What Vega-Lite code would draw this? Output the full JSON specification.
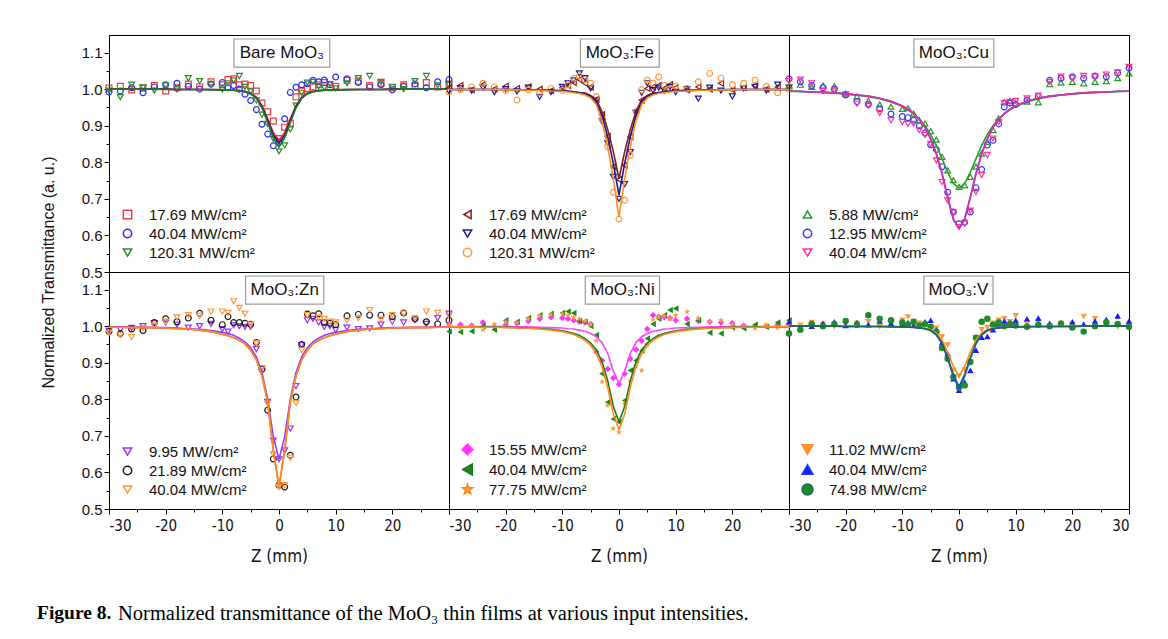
{
"$schema":"https://vega.github.io/schema/vega-lite/v6.json",
"background":"white",
"padding":{"left":36,"top":34,"right":10,"bottom":10},
"config":{
 "view":{"stroke":"#000","strokeWidth":1},
 "axis":{"grid":false,"domainColor":"#000","tickColor":"#000","domainWidth":1,"tickWidth":1,"labelFont":"Liberation Sans","labelFontSize":15,"labelColor":"#111","titleFont":"Liberation Sans","titleFontSize":16,"titleFontWeight":"normal","titleColor":"#111","labelPadding":2},
 "axisX":{"labelFont":"Liberation Sans Narrow, DejaVu Sans Condensed, Liberation Sans","labelFontSize":15,"labelPadding":4,"titleFont":"Liberation Sans Narrow, DejaVu Sans Condensed, Liberation Sans","titleFontSize":17,"titlePadding":15},
 "legend":{"orient":"bottom-left","offset":11,"labelFont":"Liberation Sans","labelFontSize":15,"labelColor":"#111","symbolSize":70,"symbolStrokeWidth":1.5,"labelOffset":14,"rowPadding":3,"padding":0,"labelLimit":300}
},
"datasets":{
"bare":[
{"s":"a","z":-30,"T":1.003,"f":1},{"s":"b","z":-30,"T":0.992,"f":1},{"s":"c","z":-30,"T":0.996,"f":1},
{"s":"a","z":-28,"T":1.008,"f":1},{"s":"b","z":-28,"T":0.995,"f":1},{"s":"c","z":-28,"T":0.978,"f":1},
{"s":"a","z":-26,"T":0.998,"f":1},{"s":"b","z":-26,"T":1.004,"f":1},{"s":"c","z":-26,"T":1.012,"f":1},
{"s":"a","z":-24,"T":1.003,"f":1},{"s":"b","z":-24,"T":0.99,"f":1},{"s":"c","z":-24,"T":1.005,"f":1},
{"s":"a","z":-22,"T":1.01,"f":1},{"s":"b","z":-22,"T":1.006,"f":1},{"s":"c","z":-22,"T":0.996,"f":1},
{"s":"a","z":-20,"T":0.995,"f":1},{"s":"b","z":-20,"T":1.012,"f":1},{"s":"c","z":-20,"T":1.01,"f":0.999},
{"s":"a","z":-18,"T":1.004,"f":0.999},{"s":"b","z":-18,"T":1.016,"f":0.999},{"s":"c","z":-18,"T":0.999,"f":0.999},
{"s":"a","z":-16,"T":1.014,"f":0.999},{"s":"b","z":-16,"T":1.008,"f":0.999},{"s":"c","z":-16,"T":1.03,"f":0.999},
{"s":"a","z":-14,"T":1.006,"f":0.999},{"s":"b","z":-14,"T":1,"f":0.999},{"s":"c","z":-14,"T":1.022,"f":0.999},
{"s":"a","z":-12,"T":1.02,"f":0.999},{"s":"b","z":-12,"T":1.014,"f":0.999},{"s":"c","z":-12,"T":1.012,"f":0.998},
{"s":"a","z":-10,"T":1.012,"f":0.998},{"s":"b","z":-10,"T":1.018,"f":0.998},{"s":"c","z":-10,"T":0.999,"f":0.998},
{"s":"a","z":-9,"T":1.026,"f":0.998},{"s":"b","z":-9,"T":1.004,"f":0.997},{"s":"c","z":-9,"T":1.016,"f":0.997},
{"s":"a","z":-8,"T":1.028,"f":0.997},{"s":"b","z":-8,"T":1.01,"f":0.997},{"s":"c","z":-8,"T":1.024,"f":0.997},
{"s":"a","z":-7,"T":1.012,"f":0.996},{"s":"b","z":-7,"T":1,"f":0.996},{"s":"c","z":-7,"T":1.036,"f":0.995},
{"s":"a","z":-6,"T":1.014,"f":0.994},{"s":"b","z":-6,"T":0.986,"f":0.993},{"s":"c","z":-6,"T":1.006,"f":0.993},
{"s":"a","z":-5,"T":1.01,"f":0.989},{"s":"b","z":-5,"T":0.969,"f":0.988},{"s":"c","z":-5,"T":0.994,"f":0.987},
{"s":"a","z":-4,"T":0.995,"f":0.978},{"s":"b","z":-4,"T":0.944,"f":0.976},{"s":"c","z":-4,"T":0.969,"f":0.975},
{"s":"a","z":-3,"T":0.962,"f":0.955},{"s":"b","z":-3,"T":0.904,"f":0.953},{"s":"c","z":-3,"T":0.93,"f":0.949},
{"s":"a","z":-2,"T":0.938,"f":0.919},{"s":"b","z":-2,"T":0.877,"f":0.914},{"s":"c","z":-2,"T":0.905,"f":0.908},
{"s":"a","z":-1,"T":0.913,"f":0.881},{"s":"b","z":-1,"T":0.845,"f":0.874},{"s":"c","z":-1,"T":0.864,"f":0.866},
{"s":"a","z":0,"T":0.865,"f":0.86},{"s":"b","z":0,"T":0.855,"f":0.852},{"s":"c","z":0,"T":0.83,"f":0.842},
{"s":"a","z":1,"T":0.896,"f":0.881},{"s":"b","z":1,"T":0.919,"f":0.874},{"s":"c","z":1,"T":0.846,"f":0.866},
{"s":"a","z":2,"T":0.907,"f":0.919},{"s":"b","z":2,"T":0.991,"f":0.914},{"s":"c","z":2,"T":0.89,"f":0.908},
{"s":"a","z":3,"T":0.979,"f":0.955},{"s":"b","z":3,"T":1.005,"f":0.953},{"s":"c","z":3,"T":0.955,"f":0.949},
{"s":"a","z":4,"T":0.995,"f":0.978},{"s":"b","z":4,"T":1.012,"f":0.976},{"s":"c","z":4,"T":0.99,"f":0.975},
{"s":"a","z":5,"T":1.002,"f":0.989},{"s":"b","z":5,"T":1.015,"f":0.988},{"s":"c","z":5,"T":1.018,"f":0.987},
{"s":"a","z":6,"T":1.006,"f":0.994},{"s":"b","z":6,"T":1.024,"f":0.993},{"s":"c","z":6,"T":1.02,"f":0.993},
{"s":"a","z":7,"T":1.012,"f":0.996},{"s":"b","z":7,"T":1.02,"f":0.996},{"s":"c","z":7,"T":1.008,"f":0.995},
{"s":"a","z":8,"T":1.018,"f":0.997},{"s":"b","z":8,"T":1.025,"f":0.997},{"s":"c","z":8,"T":1.004,"f":0.997},
{"s":"a","z":9,"T":1.004,"f":0.998},{"s":"b","z":9,"T":1.012,"f":0.997},{"s":"c","z":9,"T":1.014,"f":0.997},
{"s":"a","z":10,"T":1.008,"f":0.998},{"s":"b","z":10,"T":1.033,"f":0.998},{"s":"c","z":10,"T":1.002,"f":0.998},
{"s":"a","z":12,"T":1.024,"f":0.999},{"s":"b","z":12,"T":1.028,"f":0.999},{"s":"c","z":12,"T":1.016,"f":0.998},
{"s":"a","z":14,"T":1.022,"f":0.999},{"s":"b","z":14,"T":1.018,"f":0.999},{"s":"c","z":14,"T":1.03,"f":0.999},
{"s":"a","z":16,"T":1.01,"f":0.999},{"s":"b","z":16,"T":1.006,"f":0.999},{"s":"c","z":16,"T":1.036,"f":0.999},
{"s":"a","z":18,"T":1.016,"f":0.999},{"s":"b","z":18,"T":1.012,"f":0.999},{"s":"c","z":18,"T":1.02,"f":0.999},
{"s":"a","z":20,"T":1.004,"f":1},{"s":"b","z":20,"T":0.998,"f":1},{"s":"c","z":20,"T":1.006,"f":0.999},
{"s":"a","z":22,"T":1.012,"f":1},{"s":"b","z":22,"T":1.008,"f":1},{"s":"c","z":22,"T":1,"f":1},
{"s":"a","z":24,"T":1.008,"f":1},{"s":"b","z":24,"T":1.014,"f":1},{"s":"c","z":24,"T":1.022,"f":1},
{"s":"a","z":26,"T":1.018,"f":1},{"s":"b","z":26,"T":1.004,"f":1},{"s":"c","z":26,"T":1.036,"f":1},
{"s":"a","z":28,"T":1.006,"f":1},{"s":"b","z":28,"T":1.02,"f":1},{"s":"c","z":28,"T":1.01,"f":1},
{"s":"a","z":30,"T":1.014,"f":1},{"s":"b","z":30,"T":1.026,"f":1},{"s":"c","z":30,"T":1.012,"f":1}
],
"fe":[
{"s":"a","z":-30,"T":1.004,"f":0.999},{"s":"b","z":-30,"T":0.994,"f":0.999},{"s":"c","z":-30,"T":0.992,"f":0.999},
{"s":"a","z":-28,"T":1.01,"f":0.999},{"s":"b","z":-28,"T":1.002,"f":0.999},{"s":"c","z":-28,"T":0.998,"f":0.999},
{"s":"a","z":-26,"T":0.998,"f":0.999},{"s":"b","z":-26,"T":0.996,"f":0.999},{"s":"c","z":-26,"T":1.006,"f":0.999},
{"s":"a","z":-24,"T":1.012,"f":0.999},{"s":"b","z":-24,"T":1.004,"f":0.999},{"s":"c","z":-24,"T":1.016,"f":0.999},
{"s":"a","z":-22,"T":1,"f":0.999},{"s":"b","z":-22,"T":0.992,"f":0.999},{"s":"c","z":-22,"T":1.006,"f":0.999},
{"s":"a","z":-20,"T":1.008,"f":0.999},{"s":"b","z":-20,"T":1,"f":0.999},{"s":"c","z":-20,"T":0.996,"f":0.998},
{"s":"a","z":-18,"T":1.002,"f":0.998},{"s":"b","z":-18,"T":0.994,"f":0.998},{"s":"c","z":-18,"T":0.97,"f":0.998},
{"s":"a","z":-16,"T":1.006,"f":0.998},{"s":"b","z":-16,"T":1.004,"f":0.998},{"s":"c","z":-16,"T":0.998,"f":0.997},
{"s":"a","z":-14,"T":1,"f":0.998},{"s":"b","z":-14,"T":0.979,"f":0.997},{"s":"c","z":-14,"T":0.99,"f":0.997},
{"s":"a","z":-12,"T":0.996,"f":0.997},{"s":"b","z":-12,"T":0.992,"f":0.996},{"s":"c","z":-12,"T":1.002,"f":0.995},
{"s":"a","z":-10,"T":1.004,"f":0.996},{"s":"b","z":-10,"T":1.006,"f":0.995},{"s":"c","z":-10,"T":0.996,"f":0.994},
{"s":"a","z":-9,"T":1.01,"f":0.995},{"s":"b","z":-9,"T":1.016,"f":0.994},{"s":"c","z":-9,"T":1.012,"f":0.992},
{"s":"a","z":-8,"T":1.018,"f":0.993},{"s":"b","z":-8,"T":1.024,"f":0.992},{"s":"c","z":-8,"T":1.03,"f":0.99},
{"s":"a","z":-7,"T":1.026,"f":0.991},{"s":"b","z":-7,"T":1.043,"f":0.99},{"s":"c","z":-7,"T":1.036,"f":0.988},
{"s":"a","z":-6,"T":1.016,"f":0.989},{"s":"b","z":-6,"T":1.03,"f":0.987},{"s":"c","z":-6,"T":1.026,"f":0.984},
{"s":"a","z":-5,"T":1.006,"f":0.983},{"s":"b","z":-5,"T":1.002,"f":0.98},{"s":"c","z":-5,"T":1.016,"f":0.976},
{"s":"a","z":-4,"T":0.972,"f":0.971},{"s":"b","z":-4,"T":0.968,"f":0.965},{"s":"c","z":-4,"T":0.98,"f":0.958},
{"s":"a","z":-3,"T":0.93,"f":0.939},{"s":"b","z":-3,"T":0.912,"f":0.928},{"s":"c","z":-3,"T":0.918,"f":0.913},
{"s":"a","z":-2,"T":0.871,"f":0.89},{"s":"b","z":-2,"T":0.852,"f":0.87},{"s":"c","z":-2,"T":0.843,"f":0.843},
{"s":"a","z":-1,"T":0.788,"f":0.829},{"s":"b","z":-1,"T":0.76,"f":0.797},{"s":"c","z":-1,"T":0.718,"f":0.755},
{"s":"a","z":0,"T":0.753,"f":0.755},{"s":"b","z":0,"T":0.7,"f":0.71},{"s":"c","z":0,"T":0.645,"f":0.65},
{"s":"a","z":1,"T":0.792,"f":0.829},{"s":"b","z":1,"T":0.74,"f":0.797},{"s":"c","z":1,"T":0.696,"f":0.755},
{"s":"a","z":2,"T":0.87,"f":0.89},{"s":"b","z":2,"T":0.828,"f":0.87},{"s":"c","z":2,"T":0.819,"f":0.843},
{"s":"a","z":3,"T":0.942,"f":0.939},{"s":"b","z":3,"T":0.935,"f":0.928},{"s":"c","z":3,"T":0.938,"f":0.913},
{"s":"a","z":4,"T":0.97,"f":0.971},{"s":"b","z":4,"T":0.99,"f":0.965},{"s":"c","z":4,"T":0.998,"f":0.958},
{"s":"a","z":5,"T":1.002,"f":0.983},{"s":"b","z":5,"T":1.016,"f":0.98},{"s":"c","z":5,"T":1.025,"f":0.976},
{"s":"a","z":6,"T":1.006,"f":0.989},{"s":"b","z":6,"T":0.997,"f":0.987},{"s":"c","z":6,"T":1.016,"f":0.984},
{"s":"a","z":7,"T":1.01,"f":0.991},{"s":"b","z":7,"T":1.004,"f":0.99},{"s":"c","z":7,"T":1.033,"f":0.988},
{"s":"a","z":8,"T":1.002,"f":0.993},{"s":"b","z":8,"T":0.996,"f":0.992},{"s":"c","z":8,"T":1.01,"f":0.99},
{"s":"a","z":9,"T":1.012,"f":0.995},{"s":"b","z":9,"T":1.006,"f":0.994},{"s":"c","z":9,"T":1,"f":0.992},
{"s":"a","z":10,"T":1.004,"f":0.996},{"s":"b","z":10,"T":0.992,"f":0.995},{"s":"c","z":10,"T":1.008,"f":0.994},
{"s":"a","z":12,"T":0.998,"f":0.997},{"s":"b","z":12,"T":1,"f":0.996},{"s":"c","z":12,"T":1.002,"f":0.995},
{"s":"a","z":14,"T":1.006,"f":0.998},{"s":"b","z":14,"T":0.974,"f":0.997},{"s":"c","z":14,"T":1.02,"f":0.997},
{"s":"a","z":16,"T":1,"f":0.998},{"s":"b","z":16,"T":1.004,"f":0.998},{"s":"c","z":16,"T":1.043,"f":0.997},
{"s":"a","z":18,"T":1.016,"f":0.998},{"s":"b","z":18,"T":0.996,"f":0.998},{"s":"c","z":18,"T":1.03,"f":0.998},
{"s":"a","z":20,"T":0.998,"f":0.999},{"s":"b","z":20,"T":0.98,"f":0.999},{"s":"c","z":20,"T":1.012,"f":0.998},
{"s":"a","z":22,"T":1.004,"f":0.999},{"s":"b","z":22,"T":1.002,"f":0.999},{"s":"c","z":22,"T":1.016,"f":0.999},
{"s":"a","z":24,"T":1.01,"f":0.999},{"s":"b","z":24,"T":1.006,"f":0.999},{"s":"c","z":24,"T":1.025,"f":0.999},
{"s":"a","z":26,"T":1,"f":0.999},{"s":"b","z":26,"T":0.996,"f":0.999},{"s":"c","z":26,"T":1.008,"f":0.999},
{"s":"a","z":28,"T":1.006,"f":0.999},{"s":"b","z":28,"T":1.012,"f":0.999},{"s":"c","z":28,"T":0.99,"f":0.999},
{"s":"a","z":30,"T":1.002,"f":0.999},{"s":"b","z":30,"T":1.004,"f":0.999},{"s":"c","z":30,"T":1,"f":0.999}
],
"cu":[
{"s":"a","z":-30,"T":1.01,"f":0.994},{"s":"b","z":-30,"T":1.028,"f":0.994},{"s":"c","z":-30,"T":1.022,"f":0.994},
{"s":"a","z":-28,"T":1.012,"f":0.993},{"s":"b","z":-28,"T":1.02,"f":0.994},{"s":"c","z":-28,"T":1.026,"f":0.994},
{"s":"a","z":-26,"T":1.006,"f":0.992},{"s":"b","z":-26,"T":1.01,"f":0.992},{"s":"c","z":-26,"T":1.016,"f":0.992},
{"s":"a","z":-24,"T":1.01,"f":0.991},{"s":"b","z":-24,"T":1.004,"f":0.991},{"s":"c","z":-24,"T":0.995,"f":0.991},
{"s":"a","z":-22,"T":1.008,"f":0.989},{"s":"b","z":-22,"T":1,"f":0.99},{"s":"c","z":-22,"T":0.998,"f":0.99},
{"s":"a","z":-20,"T":0.988,"f":0.987},{"s":"b","z":-20,"T":0.984,"f":0.987},{"s":"c","z":-20,"T":0.986,"f":0.987},
{"s":"a","z":-18,"T":0.98,"f":0.984},{"s":"b","z":-18,"T":0.966,"f":0.984},{"s":"c","z":-18,"T":0.96,"f":0.984},
{"s":"a","z":-16,"T":0.968,"f":0.979},{"s":"b","z":-16,"T":0.958,"f":0.981},{"s":"c","z":-16,"T":0.955,"f":0.981},
{"s":"a","z":-14,"T":0.958,"f":0.974},{"s":"b","z":-14,"T":0.946,"f":0.975},{"s":"c","z":-14,"T":0.935,"f":0.975},
{"s":"a","z":-12,"T":0.952,"f":0.965},{"s":"b","z":-12,"T":0.932,"f":0.967},{"s":"c","z":-12,"T":0.915,"f":0.967},
{"s":"a","z":-10,"T":0.946,"f":0.953},{"s":"b","z":-10,"T":0.925,"f":0.954},{"s":"c","z":-10,"T":0.91,"f":0.954},
{"s":"a","z":-9,"T":0.948,"f":0.944},{"s":"b","z":-9,"T":0.922,"f":0.945},{"s":"c","z":-9,"T":0.905,"f":0.945},
{"s":"a","z":-8,"T":0.933,"f":0.933},{"s":"b","z":-8,"T":0.915,"f":0.933},{"s":"c","z":-8,"T":0.905,"f":0.933},
{"s":"a","z":-7,"T":0.915,"f":0.918},{"s":"b","z":-7,"T":0.9,"f":0.917},{"s":"c","z":-7,"T":0.888,"f":0.917},
{"s":"a","z":-6,"T":0.906,"f":0.9},{"s":"b","z":-6,"T":0.88,"f":0.896},{"s":"c","z":-6,"T":0.875,"f":0.896},
{"s":"a","z":-5,"T":0.885,"f":0.876},{"s":"b","z":-5,"T":0.848,"f":0.865},{"s":"c","z":-5,"T":0.85,"f":0.863},
{"s":"a","z":-4,"T":0.862,"f":0.846},{"s":"b","z":-4,"T":0.835,"f":0.825},{"s":"c","z":-4,"T":0.805,"f":0.822},
{"s":"a","z":-3,"T":0.815,"f":0.81},{"s":"b","z":-3,"T":0.788,"f":0.771},{"s":"c","z":-3,"T":0.746,"f":0.767},
{"s":"a","z":-2,"T":0.778,"f":0.773},{"s":"b","z":-2,"T":0.718,"f":0.706},{"s":"c","z":-2,"T":0.696,"f":0.702},
{"s":"a","z":-1,"T":0.751,"f":0.742},{"s":"b","z":-1,"T":0.664,"f":0.646},{"s":"c","z":-1,"T":0.662,"f":0.643},
{"s":"a","z":0,"T":0.733,"f":0.73},{"s":"b","z":0,"T":0.632,"f":0.62},{"s":"c","z":0,"T":0.623,"f":0.62},
{"s":"a","z":1,"T":0.737,"f":0.742},{"s":"b","z":1,"T":0.636,"f":0.646},{"s":"c","z":1,"T":0.632,"f":0.643},
{"s":"a","z":2,"T":0.76,"f":0.773},{"s":"b","z":2,"T":0.664,"f":0.706},{"s":"c","z":2,"T":0.668,"f":0.702},
{"s":"a","z":3,"T":0.788,"f":0.81},{"s":"b","z":3,"T":0.73,"f":0.771},{"s":"c","z":3,"T":0.719,"f":0.767},
{"s":"a","z":4,"T":0.824,"f":0.846},{"s":"b","z":4,"T":0.78,"f":0.825},{"s":"c","z":4,"T":0.765,"f":0.822},
{"s":"a","z":5,"T":0.856,"f":0.876},{"s":"b","z":5,"T":0.847,"f":0.865},{"s":"c","z":5,"T":0.82,"f":0.863},
{"s":"a","z":6,"T":0.888,"f":0.9},{"s":"b","z":6,"T":0.86,"f":0.896},{"s":"c","z":6,"T":0.865,"f":0.896},
{"s":"a","z":7,"T":0.92,"f":0.918},{"s":"b","z":7,"T":0.905,"f":0.917},{"s":"c","z":7,"T":0.91,"f":0.917},
{"s":"a","z":8,"T":0.965,"f":0.933},{"s":"b","z":8,"T":0.951,"f":0.933},{"s":"c","z":8,"T":0.962,"f":0.933},
{"s":"a","z":9,"T":0.968,"f":0.944},{"s":"b","z":9,"T":0.962,"f":0.945},{"s":"c","z":9,"T":0.965,"f":0.945},
{"s":"a","z":10,"T":0.962,"f":0.953},{"s":"b","z":10,"T":0.958,"f":0.954},{"s":"c","z":10,"T":0.968,"f":0.954},
{"s":"a","z":12,"T":0.966,"f":0.965},{"s":"b","z":12,"T":0.97,"f":0.967},{"s":"c","z":12,"T":0.975,"f":0.967},
{"s":"a","z":14,"T":0.964,"f":0.974},{"s":"b","z":14,"T":0.98,"f":0.975},{"s":"c","z":14,"T":0.982,"f":0.975},
{"s":"a","z":16,"T":1.014,"f":0.979},{"s":"b","z":16,"T":1.024,"f":0.981},{"s":"c","z":16,"T":1.02,"f":0.981},
{"s":"a","z":18,"T":1.018,"f":0.984},{"s":"b","z":18,"T":1.03,"f":0.984},{"s":"c","z":18,"T":1.034,"f":0.984},
{"s":"a","z":20,"T":1.02,"f":0.987},{"s":"b","z":20,"T":1.034,"f":0.987},{"s":"c","z":20,"T":1.03,"f":0.987},
{"s":"a","z":22,"T":1.016,"f":0.989},{"s":"b","z":22,"T":1.03,"f":0.99},{"s":"c","z":22,"T":1.036,"f":0.99},
{"s":"a","z":24,"T":1.02,"f":0.991},{"s":"b","z":24,"T":1.036,"f":0.991},{"s":"c","z":24,"T":1.034,"f":0.991},
{"s":"a","z":26,"T":1.022,"f":0.992},{"s":"b","z":26,"T":1.034,"f":0.992},{"s":"c","z":26,"T":1.04,"f":0.992},
{"s":"a","z":28,"T":1.03,"f":0.993},{"s":"b","z":28,"T":1.044,"f":0.994},{"s":"c","z":28,"T":1.046,"f":0.994},
{"s":"a","z":30,"T":1.043,"f":0.994},{"s":"b","z":30,"T":1.058,"f":0.994},{"s":"c","z":30,"T":1.061,"f":0.994}
],
"zn":[
{"s":"a","z":-30,"T":0.988,"f":0.998},{"s":"b","z":-30,"T":0.985,"f":0.997},{"s":"c","z":-30,"T":0.982,"f":0.997},
{"s":"a","z":-28,"T":0.99,"f":0.998},{"s":"b","z":-28,"T":0.98,"f":0.997},{"s":"c","z":-28,"T":0.975,"f":0.997},
{"s":"a","z":-26,"T":0.995,"f":0.997},{"s":"b","z":-26,"T":0.992,"f":0.996},{"s":"c","z":-26,"T":0.97,"f":0.996},
{"s":"a","z":-24,"T":1,"f":0.997},{"s":"b","z":-24,"T":0.988,"f":0.996},{"s":"c","z":-24,"T":0.994,"f":0.996},
{"s":"a","z":-22,"T":1.008,"f":0.996},{"s":"b","z":-22,"T":1.01,"f":0.996},{"s":"c","z":-22,"T":1.002,"f":0.996},
{"s":"a","z":-20,"T":1.01,"f":0.996},{"s":"b","z":-20,"T":1.02,"f":0.995},{"s":"c","z":-20,"T":1.012,"f":0.995},
{"s":"a","z":-18,"T":1.004,"f":0.995},{"s":"b","z":-18,"T":1.012,"f":0.993},{"s":"c","z":-18,"T":1.024,"f":0.993},
{"s":"a","z":-16,"T":0.996,"f":0.993},{"s":"b","z":-16,"T":1.022,"f":0.992},{"s":"c","z":-16,"T":1.03,"f":0.992},
{"s":"a","z":-14,"T":1,"f":0.991},{"s":"b","z":-14,"T":1.035,"f":0.989},{"s":"c","z":-14,"T":1.028,"f":0.989},
{"s":"a","z":-12,"T":1.006,"f":0.988},{"s":"b","z":-12,"T":1.016,"f":0.985},{"s":"c","z":-12,"T":1.04,"f":0.985},
{"s":"a","z":-10,"T":0.992,"f":0.983},{"s":"b","z":-10,"T":1.004,"f":0.978},{"s":"c","z":-10,"T":1.04,"f":0.978},
{"s":"a","z":-9,"T":0.985,"f":0.98},{"s":"b","z":-9,"T":1.026,"f":0.974},{"s":"c","z":-9,"T":1.036,"f":0.974},
{"s":"a","z":-8,"T":1.002,"f":0.975},{"s":"b","z":-8,"T":1.01,"f":0.968},{"s":"c","z":-8,"T":1.068,"f":0.968},
{"s":"a","z":-7,"T":1,"f":0.967},{"s":"b","z":-7,"T":1.01,"f":0.961},{"s":"c","z":-7,"T":1.05,"f":0.961},
{"s":"a","z":-6,"T":0.998,"f":0.957},{"s":"b","z":-6,"T":1.008,"f":0.952},{"s":"c","z":-6,"T":1.034,"f":0.952},
{"s":"a","z":-5,"T":0.998,"f":0.941},{"s":"b","z":-5,"T":1.005,"f":0.934},{"s":"c","z":-5,"T":1.004,"f":0.934},
{"s":"a","z":-4,"T":0.937,"f":0.916},{"s":"b","z":-4,"T":0.955,"f":0.908},{"s":"c","z":-4,"T":0.953,"f":0.908},
{"s":"a","z":-3,"T":0.885,"f":0.873},{"s":"b","z":-3,"T":0.882,"f":0.864},{"s":"c","z":-3,"T":0.885,"f":0.864},
{"s":"a","z":-2,"T":0.793,"f":0.801},{"s":"b","z":-2,"T":0.77,"f":0.793},{"s":"c","z":-2,"T":0.788,"f":0.793},
{"s":"a","z":-1,"T":0.687,"f":0.698},{"s":"b","z":-1,"T":0.637,"f":0.661},{"s":"c","z":-1,"T":0.65,"f":0.661},
{"s":"a","z":0,"T":0.636,"f":0.636},{"s":"b","z":0,"T":0.565,"f":0.56},{"s":"c","z":0,"T":0.56,"f":0.56},
{"s":"a","z":1,"T":0.66,"f":0.698},{"s":"b","z":1,"T":0.56,"f":0.661},{"s":"c","z":1,"T":0.565,"f":0.661},
{"s":"a","z":2,"T":0.72,"f":0.801},{"s":"b","z":2,"T":0.647,"f":0.793},{"s":"c","z":2,"T":0.64,"f":0.793},
{"s":"a","z":3,"T":0.836,"f":0.873},{"s":"b","z":3,"T":0.806,"f":0.864},{"s":"c","z":3,"T":0.79,"f":0.864},
{"s":"a","z":4,"T":0.948,"f":0.916},{"s":"b","z":4,"T":0.95,"f":0.908},{"s":"c","z":4,"T":0.934,"f":0.908},
{"s":"a","z":5,"T":1.016,"f":0.941},{"s":"b","z":5,"T":1.033,"f":0.934},{"s":"c","z":5,"T":1.03,"f":0.934},
{"s":"a","z":6,"T":1.02,"f":0.957},{"s":"b","z":6,"T":1.028,"f":0.952},{"s":"c","z":6,"T":1.067,"f":0.952},
{"s":"a","z":7,"T":1.01,"f":0.967},{"s":"b","z":7,"T":1.034,"f":0.961},{"s":"c","z":7,"T":1.024,"f":0.961},
{"s":"a","z":8,"T":0.998,"f":0.975},{"s":"b","z":8,"T":1.01,"f":0.968},{"s":"c","z":8,"T":1.02,"f":0.968},
{"s":"a","z":9,"T":1,"f":0.98},{"s":"b","z":9,"T":1.008,"f":0.974},{"s":"c","z":9,"T":1.012,"f":0.974},
{"s":"a","z":10,"T":0.99,"f":0.983},{"s":"b","z":10,"T":1.004,"f":0.978},{"s":"c","z":10,"T":1.01,"f":0.978},
{"s":"a","z":12,"T":0.996,"f":0.988},{"s":"b","z":12,"T":1.028,"f":0.985},{"s":"c","z":12,"T":1.016,"f":0.985},
{"s":"a","z":14,"T":0.992,"f":0.991},{"s":"b","z":14,"T":1.032,"f":0.989},{"s":"c","z":14,"T":1.022,"f":0.989},
{"s":"a","z":16,"T":0.994,"f":0.993},{"s":"b","z":16,"T":1.03,"f":0.992},{"s":"c","z":16,"T":1.044,"f":0.992},
{"s":"a","z":18,"T":1.004,"f":0.995},{"s":"b","z":18,"T":1.03,"f":0.993},{"s":"c","z":18,"T":1.018,"f":0.993},
{"s":"a","z":20,"T":1.012,"f":0.996},{"s":"b","z":20,"T":1.026,"f":0.995},{"s":"c","z":20,"T":1.03,"f":0.995},
{"s":"a","z":22,"T":1.01,"f":0.996},{"s":"b","z":22,"T":1.036,"f":0.996},{"s":"c","z":22,"T":1.034,"f":0.996},
{"s":"a","z":24,"T":1.016,"f":0.997},{"s":"b","z":24,"T":1.02,"f":0.996},{"s":"c","z":24,"T":1.022,"f":0.996},
{"s":"a","z":26,"T":1.006,"f":0.997},{"s":"b","z":26,"T":1.012,"f":0.996},{"s":"c","z":26,"T":1.04,"f":0.996},
{"s":"a","z":28,"T":1.022,"f":0.998},{"s":"b","z":28,"T":1.006,"f":0.997},{"s":"c","z":28,"T":1.036,"f":0.997},
{"s":"a","z":30,"T":1.034,"f":0.998},{"s":"b","z":30,"T":1.016,"f":0.997},{"s":"c","z":30,"T":1.028,"f":0.997}
],
"ni":[
{"s":"a","z":-30,"T":1.006,"f":0.999},{"s":"b","z":-30,"T":0.985,"f":0.998},{"s":"c","z":-30,"T":1.004,"f":0.998},
{"s":"a","z":-28,"T":1.004,"f":0.999},{"s":"b","z":-28,"T":0.984,"f":0.998},{"s":"c","z":-28,"T":0.996,"f":0.998},
{"s":"a","z":-26,"T":1.002,"f":0.999},{"s":"b","z":-26,"T":0.986,"f":0.998},{"s":"c","z":-26,"T":1,"f":0.998},
{"s":"a","z":-24,"T":1.01,"f":0.999},{"s":"b","z":-24,"T":1,"f":0.998},{"s":"c","z":-24,"T":0.99,"f":0.997},
{"s":"a","z":-22,"T":0.998,"f":0.999},{"s":"b","z":-22,"T":0.99,"f":0.997},{"s":"c","z":-22,"T":1.006,"f":0.997},
{"s":"a","z":-20,"T":1.004,"f":0.999},{"s":"b","z":-20,"T":1.016,"f":0.997},{"s":"c","z":-20,"T":1.012,"f":0.996},
{"s":"a","z":-18,"T":1.008,"f":0.998},{"s":"b","z":-18,"T":1.012,"f":0.996},{"s":"c","z":-18,"T":1.01,"f":0.995},
{"s":"a","z":-16,"T":1.014,"f":0.998},{"s":"b","z":-16,"T":1.022,"f":0.995},{"s":"c","z":-16,"T":1.02,"f":0.994},
{"s":"a","z":-14,"T":1.02,"f":0.997},{"s":"b","z":-14,"T":1.03,"f":0.993},{"s":"c","z":-14,"T":1.028,"f":0.992},
{"s":"a","z":-12,"T":1.024,"f":0.996},{"s":"b","z":-12,"T":1.034,"f":0.991},{"s":"c","z":-12,"T":1.032,"f":0.989},
{"s":"a","z":-10,"T":1.022,"f":0.995},{"s":"b","z":-10,"T":1.036,"f":0.987},{"s":"c","z":-10,"T":1.034,"f":0.985},
{"s":"a","z":-9,"T":1.02,"f":0.993},{"s":"b","z":-9,"T":1.04,"f":0.984},{"s":"c","z":-9,"T":1.03,"f":0.981},
{"s":"a","z":-8,"T":1.016,"f":0.992},{"s":"b","z":-8,"T":1.036,"f":0.98},{"s":"c","z":-8,"T":1.024,"f":0.977},
{"s":"a","z":-7,"T":1.012,"f":0.989},{"s":"b","z":-7,"T":1.014,"f":0.975},{"s":"c","z":-7,"T":1.02,"f":0.97},
{"s":"a","z":-6,"T":1.01,"f":0.986},{"s":"b","z":-6,"T":1.012,"f":0.966},{"s":"c","z":-6,"T":1.014,"f":0.961},
{"s":"a","z":-5,"T":1.006,"f":0.98},{"s":"b","z":-5,"T":1,"f":0.954},{"s":"c","z":-5,"T":1.004,"f":0.947},
{"s":"a","z":-4,"T":0.929,"f":0.971},{"s":"b","z":-4,"T":0.976,"f":0.935},{"s":"c","z":-4,"T":0.96,"f":0.925},
{"s":"a","z":-3,"T":0.906,"f":0.955},{"s":"b","z":-3,"T":0.87,"f":0.903},{"s":"c","z":-3,"T":0.848,"f":0.89},
{"s":"a","z":-2,"T":0.883,"f":0.926},{"s":"b","z":-2,"T":0.792,"f":0.851},{"s":"c","z":-2,"T":0.783,"f":0.833},
{"s":"a","z":-1,"T":0.858,"f":0.877},{"s":"b","z":-1,"T":0.746,"f":0.78},{"s":"c","z":-1,"T":0.72,"f":0.759},
{"s":"a","z":0,"T":0.841,"f":0.843},{"s":"b","z":0,"T":0.738,"f":0.738},{"s":"c","z":0,"T":0.71,"f":0.717},
{"s":"a","z":1,"T":0.87,"f":0.877},{"s":"b","z":1,"T":0.797,"f":0.78},{"s":"c","z":1,"T":0.788,"f":0.759},
{"s":"a","z":2,"T":0.911,"f":0.926},{"s":"b","z":2,"T":0.879,"f":0.851},{"s":"c","z":2,"T":0.85,"f":0.833},
{"s":"a","z":3,"T":0.936,"f":0.955},{"s":"b","z":3,"T":0.906,"f":0.903},{"s":"c","z":3,"T":0.89,"f":0.89},
{"s":"a","z":4,"T":0.96,"f":0.971},{"s":"b","z":4,"T":0.933,"f":0.935},{"s":"c","z":4,"T":0.879,"f":0.925},
{"s":"a","z":5,"T":0.992,"f":0.98},{"s":"b","z":5,"T":0.966,"f":0.954},{"s":"c","z":5,"T":0.95,"f":0.947},
{"s":"a","z":6,"T":1.03,"f":0.986},{"s":"b","z":6,"T":1.006,"f":0.966},{"s":"c","z":6,"T":1.018,"f":0.961},
{"s":"a","z":7,"T":1.026,"f":0.989},{"s":"b","z":7,"T":1.02,"f":0.975},{"s":"c","z":7,"T":1.024,"f":0.97},
{"s":"a","z":8,"T":1.024,"f":0.992},{"s":"b","z":8,"T":1.03,"f":0.98},{"s":"c","z":8,"T":1.028,"f":0.977},
{"s":"a","z":9,"T":1.022,"f":0.993},{"s":"b","z":9,"T":1.044,"f":0.984},{"s":"c","z":9,"T":1.02,"f":0.981},
{"s":"a","z":10,"T":1.016,"f":0.995},{"s":"b","z":10,"T":1.048,"f":0.987},{"s":"c","z":10,"T":1.03,"f":0.985},
{"s":"a","z":12,"T":1.02,"f":0.996},{"s":"b","z":12,"T":1.006,"f":0.991},{"s":"c","z":12,"T":1.039,"f":0.989},
{"s":"a","z":14,"T":1.014,"f":0.997},{"s":"b","z":14,"T":1.016,"f":0.993},{"s":"c","z":14,"T":1.022,"f":0.992},
{"s":"a","z":16,"T":1.012,"f":0.998},{"s":"b","z":16,"T":0.982,"f":0.995},{"s":"c","z":16,"T":1.012,"f":0.994},
{"s":"a","z":18,"T":1.01,"f":0.998},{"s":"b","z":18,"T":0.98,"f":0.996},{"s":"c","z":18,"T":1.016,"f":0.995},
{"s":"a","z":20,"T":1.008,"f":0.999},{"s":"b","z":20,"T":0.996,"f":0.997},{"s":"c","z":20,"T":1.004,"f":0.996},
{"s":"a","z":22,"T":1.002,"f":0.999},{"s":"b","z":22,"T":0.994,"f":0.997},{"s":"c","z":22,"T":1,"f":0.997},
{"s":"a","z":24,"T":0.998,"f":0.999},{"s":"b","z":24,"T":1.004,"f":0.998},{"s":"c","z":24,"T":0.994,"f":0.997},
{"s":"a","z":26,"T":1,"f":0.999},{"s":"b","z":26,"T":0.998,"f":0.998},{"s":"c","z":26,"T":1.004,"f":0.998},
{"s":"a","z":28,"T":1.004,"f":0.999},{"s":"b","z":28,"T":1.01,"f":0.998},{"s":"c","z":28,"T":0.996,"f":0.998},
{"s":"a","z":30,"T":1,"f":0.999},{"s":"b","z":30,"T":1.016,"f":0.998},{"s":"c","z":30,"T":1.002,"f":0.998}
],
"v":[
{"s":"a","z":-30,"T":1,"f":1},{"s":"b","z":-30,"T":1.012,"f":1},{"s":"c","z":-30,"T":0.98,"f":1},
{"s":"a","z":-28,"T":1.002,"f":1},{"s":"b","z":-28,"T":0.995,"f":1},{"s":"c","z":-28,"T":0.99,"f":1},
{"s":"a","z":-26,"T":1.01,"f":1},{"s":"b","z":-26,"T":1,"f":1},{"s":"c","z":-26,"T":1.006,"f":1},
{"s":"a","z":-24,"T":1.004,"f":1},{"s":"b","z":-24,"T":1.008,"f":1},{"s":"c","z":-24,"T":1,"f":1},
{"s":"a","z":-22,"T":0.998,"f":1},{"s":"b","z":-22,"T":1.012,"f":1},{"s":"c","z":-22,"T":1.006,"f":1},
{"s":"a","z":-20,"T":1.006,"f":1},{"s":"b","z":-20,"T":1.002,"f":0.999},{"s":"c","z":-20,"T":1.014,"f":0.999},
{"s":"a","z":-18,"T":1.008,"f":1},{"s":"b","z":-18,"T":1.01,"f":0.999},{"s":"c","z":-18,"T":1.004,"f":0.999},
{"s":"a","z":-16,"T":1.012,"f":0.999},{"s":"b","z":-16,"T":1.004,"f":0.999},{"s":"c","z":-16,"T":1.03,"f":0.999},
{"s":"a","z":-14,"T":0.998,"f":0.999},{"s":"b","z":-14,"T":1.014,"f":0.999},{"s":"c","z":-14,"T":1.02,"f":0.999},
{"s":"a","z":-12,"T":1.006,"f":0.999},{"s":"b","z":-12,"T":1.008,"f":0.998},{"s":"c","z":-12,"T":1.016,"f":0.999},
{"s":"a","z":-10,"T":1.016,"f":0.998},{"s":"b","z":-10,"T":1.006,"f":0.998},{"s":"c","z":-10,"T":1.01,"f":0.998},
{"s":"a","z":-9,"T":1.025,"f":0.998},{"s":"b","z":-9,"T":1.01,"f":0.997},{"s":"c","z":-9,"T":1.004,"f":0.997},
{"s":"a","z":-8,"T":1.012,"f":0.997},{"s":"b","z":-8,"T":1.002,"f":0.997},{"s":"c","z":-8,"T":1.012,"f":0.997},
{"s":"a","z":-7,"T":1.008,"f":0.996},{"s":"b","z":-7,"T":1,"f":0.995},{"s":"c","z":-7,"T":1.002,"f":0.995},
{"s":"a","z":-6,"T":1.002,"f":0.995},{"s":"b","z":-6,"T":1.012,"f":0.993},{"s":"c","z":-6,"T":1.006,"f":0.993},
{"s":"a","z":-5,"T":0.998,"f":0.99},{"s":"b","z":-5,"T":1.016,"f":0.988},{"s":"c","z":-5,"T":0.998,"f":0.988},
{"s":"a","z":-4,"T":0.994,"f":0.981},{"s":"b","z":-4,"T":0.99,"f":0.976},{"s":"c","z":-4,"T":0.985,"f":0.977},
{"s":"a","z":-3,"T":0.971,"f":0.962},{"s":"b","z":-3,"T":0.955,"f":0.952},{"s":"c","z":-3,"T":0.94,"f":0.954},
{"s":"a","z":-2,"T":0.948,"f":0.929},{"s":"b","z":-2,"T":0.925,"f":0.911},{"s":"c","z":-2,"T":0.911,"f":0.914},
{"s":"a","z":-1,"T":0.879,"f":0.89},{"s":"b","z":-1,"T":0.856,"f":0.863},{"s":"c","z":-1,"T":0.861,"f":0.868},
{"s":"a","z":0,"T":0.863,"f":0.863},{"s":"b","z":0,"T":0.825,"f":0.829},{"s":"c","z":0,"T":0.832,"f":0.835},
{"s":"a","z":1,"T":0.88,"f":0.89},{"s":"b","z":1,"T":0.847,"f":0.863},{"s":"c","z":1,"T":0.838,"f":0.868},
{"s":"a","z":2,"T":0.902,"f":0.929},{"s":"b","z":2,"T":0.879,"f":0.911},{"s":"c","z":2,"T":0.902,"f":0.914},
{"s":"a","z":3,"T":0.968,"f":0.962},{"s":"b","z":3,"T":0.934,"f":0.952},{"s":"c","z":3,"T":0.968,"f":0.954},
{"s":"a","z":4,"T":0.99,"f":0.981},{"s":"b","z":4,"T":0.97,"f":0.976},{"s":"c","z":4,"T":1.012,"f":0.977},
{"s":"a","z":5,"T":0.996,"f":0.99},{"s":"b","z":5,"T":0.972,"f":0.988},{"s":"c","z":5,"T":1.02,"f":0.988},
{"s":"a","z":6,"T":1.008,"f":0.995},{"s":"b","z":6,"T":0.99,"f":0.993},{"s":"c","z":6,"T":1.004,"f":0.993},
{"s":"a","z":7,"T":1.016,"f":0.996},{"s":"b","z":7,"T":1.006,"f":0.995},{"s":"c","z":7,"T":1.01,"f":0.995},
{"s":"a","z":8,"T":1.02,"f":0.997},{"s":"b","z":8,"T":1.014,"f":0.997},{"s":"c","z":8,"T":1,"f":0.997},
{"s":"a","z":9,"T":1.012,"f":0.998},{"s":"b","z":9,"T":1.01,"f":0.997},{"s":"c","z":9,"T":1.006,"f":0.997},
{"s":"a","z":10,"T":1.028,"f":0.998},{"s":"b","z":10,"T":1.016,"f":0.998},{"s":"c","z":10,"T":1.002,"f":0.998},
{"s":"a","z":12,"T":1.006,"f":0.999},{"s":"b","z":12,"T":1.02,"f":0.998},{"s":"c","z":12,"T":0.998,"f":0.999},
{"s":"a","z":14,"T":1.012,"f":0.999},{"s":"b","z":14,"T":1.022,"f":0.999},{"s":"c","z":14,"T":1.004,"f":0.999},
{"s":"a","z":16,"T":1,"f":0.999},{"s":"b","z":16,"T":1.008,"f":0.999},{"s":"c","z":16,"T":1,"f":0.999},
{"s":"a","z":18,"T":1.008,"f":1},{"s":"b","z":18,"T":1.01,"f":0.999},{"s":"c","z":18,"T":1.006,"f":0.999},
{"s":"a","z":20,"T":1.004,"f":1},{"s":"b","z":20,"T":1.012,"f":0.999},{"s":"c","z":20,"T":0.996,"f":0.999},
{"s":"a","z":22,"T":1.026,"f":1},{"s":"b","z":22,"T":1.006,"f":1},{"s":"c","z":22,"T":0.985,"f":1},
{"s":"a","z":24,"T":1.02,"f":1},{"s":"b","z":24,"T":1.014,"f":1},{"s":"c","z":24,"T":1,"f":1},
{"s":"a","z":26,"T":1.004,"f":1},{"s":"b","z":26,"T":1.018,"f":1},{"s":"c","z":26,"T":1.01,"f":1},
{"s":"a","z":28,"T":0.998,"f":1},{"s":"b","z":28,"T":1.028,"f":1},{"s":"c","z":28,"T":1.006,"f":1},
{"s":"a","z":30,"T":1.002,"f":1},{"s":"b","z":30,"T":1.014,"f":1},{"s":"c","z":30,"T":0.998,"f":1}
]
},
"columns":3,
"spacing":0,
"bounds":"flush",
"resolve":{"scale":{"color":"independent","shape":"independent","stroke":"independent"},"legend":{"color":"independent","shape":"independent"}},
"concat":[
 {"width":340,"height":237,"data":{"name":"bare"},"layer":[
  {"mark":{"type":"point","filled":false,"size":34,"strokeWidth":1.2,"opacity":1},
   "encoding":{
    "x":{"field":"z","type":"quantitative","scale":{"domain":[-30,30],"nice":false,"zero":false},"axis":null},
    "y":{"field":"T","type":"quantitative","scale":{"domain":[0.5,1.148],"nice":false,"zero":false},"axis":{"values":[0.5,0.55,0.6,0.65,0.7,0.75,0.8,0.85,0.9,0.95,1,1.05,1.1],"labelExpr":"round(datum.value*100)%10==0?format(datum.value,'.1f'):''","tickSize":{"condition":{"test":"round(datum.value*100)%10==0","value":5},"value":3},"title":"Normalized Transmittance (a. u.)","titleX":-61,"titleY":237,"titleAngle":-90,"titleBaseline":"middle","titleAlign":"center"}},
    "color":{"field":"s","type":"nominal","scale":{"domain":["a","b","c"],"range":["#ee3b3b","#2b2bf5","#2e8b2e"]},"legend":{"title":null,"labelExpr":"datum.label=='a'?'17.69 MW/cm²':datum.label=='b'?'40.04 MW/cm²':'120.31 MW/cm²'"}},
    "shape":{"field":"s","type":"nominal","scale":{"domain":["a","b","c"],"range":["square","circle","triangle-down"]},"legend":{"title":null,"labelExpr":"datum.label=='a'?'17.69 MW/cm²':datum.label=='b'?'40.04 MW/cm²':'120.31 MW/cm²'"}}}},
  {"mark":{"type":"line","strokeWidth":1.6},
   "encoding":{
    "x":{"field":"z","type":"quantitative","scale":{"domain":[-30,30],"nice":false,"zero":false},"axis":null},
    "y":{"field":"f","type":"quantitative","scale":{"domain":[0.5,1.148],"nice":false,"zero":false},"axis":{"values":[0.5,0.55,0.6,0.65,0.7,0.75,0.8,0.85,0.9,0.95,1,1.05,1.1],"labelExpr":"round(datum.value*100)%10==0?format(datum.value,'.1f'):''","tickSize":{"condition":{"test":"round(datum.value*100)%10==0","value":5},"value":3},"title":"Normalized Transmittance (a. u.)","titleX":-61,"titleY":237,"titleAngle":-90,"titleBaseline":"middle","titleAlign":"center"}},
    "stroke":{"field":"s","type":"nominal","scale":{"domain":["a","b","c"],"range":["#e8262c","#1c1c8c","#1f7f1f"]},"legend":null}}},
  {"data":{"values":[{}]},"mark":{"type":"rect","fill":"#fff","stroke":"#9a9a9a","strokeWidth":1.2},
   "encoding":{"x":{"datum":-7.95,"axis":null},"x2":{"datum":8.95},"y":{"datum":1.06,"axis":{"values":[0.5,0.55,0.6,0.65,0.7,0.75,0.8,0.85,0.9,0.95,1,1.05,1.1],"labelExpr":"round(datum.value*100)%10==0?format(datum.value,'.1f'):''","tickSize":{"condition":{"test":"round(datum.value*100)%10==0","value":5},"value":3},"title":"Normalized Transmittance (a. u.)","titleX":-61,"titleY":237,"titleAngle":-90,"titleBaseline":"middle","titleAlign":"center"}},"y2":{"datum":1.137}}},
  {"data":{"values":[{}]},"mark":{"type":"text","text":"Bare MoO₃","font":"Liberation Sans","fontSize":17,"color":"#111"},
   "encoding":{"x":{"datum":0.5,"axis":null},"y":{"datum":1.099,"axis":{"values":[0.5,0.55,0.6,0.65,0.7,0.75,0.8,0.85,0.9,0.95,1,1.05,1.1],"labelExpr":"round(datum.value*100)%10==0?format(datum.value,'.1f'):''","tickSize":{"condition":{"test":"round(datum.value*100)%10==0","value":5},"value":3},"title":"Normalized Transmittance (a. u.)","titleX":-61,"titleY":237,"titleAngle":-90,"titleBaseline":"middle","titleAlign":"center"}}}}
 ]},
 {"width":340,"height":237,"data":{"name":"fe"},"layer":[
  {"mark":{"type":"point","filled":false,"size":34,"strokeWidth":1.2,"opacity":1},
   "encoding":{
    "x":{"field":"z","type":"quantitative","scale":{"domain":[-30,30],"nice":false,"zero":false},"axis":null},
    "y":{"field":"T","type":"quantitative","scale":{"domain":[0.5,1.148],"nice":false,"zero":false},"axis":null},
    "color":{"field":"s","type":"nominal","scale":{"domain":["a","b","c"],"range":["#8b1c1c","#1c1c8c","#ff9a3c"]},"legend":{"title":null,"labelExpr":"datum.label=='a'?'17.69 MW/cm²':datum.label=='b'?'40.04 MW/cm²':'120.31 MW/cm²'"}},
    "shape":{"field":"s","type":"nominal","scale":{"domain":["a","b","c"],"range":["triangle-left","triangle-down","circle"]},"legend":{"title":null,"labelExpr":"datum.label=='a'?'17.69 MW/cm²':datum.label=='b'?'40.04 MW/cm²':'120.31 MW/cm²'"}}}},
  {"mark":{"type":"line","strokeWidth":1.6},
   "encoding":{
    "x":{"field":"z","type":"quantitative","scale":{"domain":[-30,30],"nice":false,"zero":false},"axis":null},
    "y":{"field":"f","type":"quantitative","scale":{"domain":[0.5,1.148],"nice":false,"zero":false},"axis":null},
    "stroke":{"field":"s","type":"nominal","scale":{"domain":["a","b","c"],"range":["#8b1a1a","#1a1a90","#ff9020"]},"legend":null}}},
  {"data":{"values":[{}]},"mark":{"type":"rect","fill":"#fff","stroke":"#9a9a9a","strokeWidth":1.2},
   "encoding":{"x":{"datum":-6.8,"axis":null},"x2":{"datum":7.1},"y":{"datum":1.06,"axis":null},"y2":{"datum":1.137}}},
  {"data":{"values":[{}]},"mark":{"type":"text","text":"MoO₃:Fe","font":"Liberation Sans","fontSize":17,"color":"#111"},
   "encoding":{"x":{"datum":0.15,"axis":null},"y":{"datum":1.099,"axis":null}}}
 ]},
 {"width":340,"height":237,"data":{"name":"cu"},"layer":[
  {"mark":{"type":"point","filled":false,"size":34,"strokeWidth":1.2,"opacity":1},
   "encoding":{
    "x":{"field":"z","type":"quantitative","scale":{"domain":[-30,30],"nice":false,"zero":false},"axis":null},
    "y":{"field":"T","type":"quantitative","scale":{"domain":[0.5,1.148],"nice":false,"zero":false},"axis":null},
    "color":{"field":"s","type":"nominal","scale":{"domain":["a","b","c"],"range":["#2a9a2a","#3535ff","#ff3399"]},"legend":{"title":null,"labelExpr":"datum.label=='a'?'5.88 MW/cm²':datum.label=='b'?'12.95 MW/cm²':'40.04 MW/cm²'"}},
    "shape":{"field":"s","type":"nominal","scale":{"domain":["a","b","c"],"range":["triangle-up","circle","triangle-down"]},"legend":{"title":null,"labelExpr":"datum.label=='a'?'5.88 MW/cm²':datum.label=='b'?'12.95 MW/cm²':'40.04 MW/cm²'"}}}},
  {"mark":{"type":"line","strokeWidth":1.6},
   "encoding":{
    "x":{"field":"z","type":"quantitative","scale":{"domain":[-30,30],"nice":false,"zero":false},"axis":null},
    "y":{"field":"f","type":"quantitative","scale":{"domain":[0.5,1.148],"nice":false,"zero":false},"axis":null},
    "stroke":{"field":"s","type":"nominal","scale":{"domain":["a","b","c"],"range":["#2e9e2e","#5a3cff","#e0309a"]},"legend":null}}},
  {"data":{"values":[{}]},"mark":{"type":"rect","fill":"#fff","stroke":"#9a9a9a","strokeWidth":1.2},
   "encoding":{"x":{"datum":-7.95,"axis":null},"x2":{"datum":6.15},"y":{"datum":1.06,"axis":null},"y2":{"datum":1.137}}},
  {"data":{"values":[{}]},"mark":{"type":"text","text":"MoO₃:Cu","font":"Liberation Sans","fontSize":17,"color":"#111"},
   "encoding":{"x":{"datum":-0.9,"axis":null},"y":{"datum":1.099,"axis":null}}}
 ]},
 {"width":340,"height":237,"data":{"name":"zn"},
  "title":{"text":"Figure 8.","orient":"bottom","anchor":"start","frame":"group","font":"Liberation Serif","fontSize":19.5,"fontWeight":"bold","color":"#000","offset":40,"dx":-72},
  "layer":[
  {"mark":{"type":"point","filled":false,"size":34,"strokeWidth":1.2,"opacity":1},
   "encoding":{
    "x":{"field":"z","type":"quantitative","scale":{"domain":[-30,30],"nice":false,"zero":false},"axis":{"values":[-30,-25,-20,-15,-10,-5,0,5,10,15,20,25,30],"labelExpr":"datum.value%10==0&&datum.value<30?toString(datum.value):''","tickSize":{"condition":{"test":"datum.value%10==0","value":5},"value":3},"title":"Z (mm)"}},
    "y":{"field":"T","type":"quantitative","scale":{"domain":[0.5,1.148],"nice":false,"zero":false},"axis":{"values":[0.5,0.55,0.6,0.65,0.7,0.75,0.8,0.85,0.9,0.95,1,1.05,1.1],"labelExpr":"round(datum.value*100)%10==0?format(datum.value,'.1f'):''","tickSize":{"condition":{"test":"round(datum.value*100)%10==0","value":5},"value":3},"title":null}},
    "color":{"field":"s","type":"nominal","scale":{"domain":["a","b","c"],"range":["#9b30ff","#1a1a1a","#ff9a3c"]},"legend":{"title":null,"labelExpr":"datum.label=='a'?'9.95 MW/cm²':datum.label=='b'?'21.89 MW/cm²':'40.04 MW/cm²'"}},
    "shape":{"field":"s","type":"nominal","scale":{"domain":["a","b","c"],"range":["triangle-down","circle","triangle-down"]},"legend":{"title":null,"labelExpr":"datum.label=='a'?'9.95 MW/cm²':datum.label=='b'?'21.89 MW/cm²':'40.04 MW/cm²'"}}}},
  {"mark":{"type":"line","strokeWidth":1.6},
   "encoding":{
    "x":{"field":"z","type":"quantitative","scale":{"domain":[-30,30],"nice":false,"zero":false},"axis":{"values":[-30,-25,-20,-15,-10,-5,0,5,10,15,20,25,30],"labelExpr":"datum.value%10==0&&datum.value<30?toString(datum.value):''","tickSize":{"condition":{"test":"datum.value%10==0","value":5},"value":3},"title":"Z (mm)"}},
    "y":{"field":"f","type":"quantitative","scale":{"domain":[0.5,1.148],"nice":false,"zero":false},"axis":{"values":[0.5,0.55,0.6,0.65,0.7,0.75,0.8,0.85,0.9,0.95,1,1.05,1.1],"labelExpr":"round(datum.value*100)%10==0?format(datum.value,'.1f'):''","tickSize":{"condition":{"test":"round(datum.value*100)%10==0","value":5},"value":3},"title":null}},
    "stroke":{"field":"s","type":"nominal","scale":{"domain":["a","b","c"],"range":["#9040ff","#e04848","#ff8c1a"]},"legend":null}}},
  {"data":{"values":[{}]},"mark":{"type":"rect","fill":"#fff","stroke":"#9a9a9a","strokeWidth":1.2},
   "encoding":{"x":{"datum":-5.9,"axis":{"values":[-30,-25,-20,-15,-10,-5,0,5,10,15,20,25,30],"labelExpr":"datum.value%10==0&&datum.value<30?toString(datum.value):''","tickSize":{"condition":{"test":"datum.value%10==0","value":5},"value":3},"title":"Z (mm)"}},"x2":{"datum":7.9},"y":{"datum":1.06,"axis":{"values":[0.5,0.55,0.6,0.65,0.7,0.75,0.8,0.85,0.9,0.95,1,1.05,1.1],"labelExpr":"round(datum.value*100)%10==0?format(datum.value,'.1f'):''","tickSize":{"condition":{"test":"round(datum.value*100)%10==0","value":5},"value":3},"title":null}},"y2":{"datum":1.137}}},
  {"data":{"values":[{}]},"mark":{"type":"text","text":"MoO₃:Zn","font":"Liberation Sans","fontSize":17,"color":"#111"},
   "encoding":{"x":{"datum":1.0,"axis":{"values":[-30,-25,-20,-15,-10,-5,0,5,10,15,20,25,30],"labelExpr":"datum.value%10==0&&datum.value<30?toString(datum.value):''","tickSize":{"condition":{"test":"datum.value%10==0","value":5},"value":3},"title":"Z (mm)"}},"y":{"datum":1.099,"axis":{"values":[0.5,0.55,0.6,0.65,0.7,0.75,0.8,0.85,0.9,0.95,1,1.05,1.1],"labelExpr":"round(datum.value*100)%10==0?format(datum.value,'.1f'):''","tickSize":{"condition":{"test":"round(datum.value*100)%10==0","value":5},"value":3},"title":null}}}}
 ]},
 {"width":340,"height":237,"data":{"name":"ni"},
  "title":{"text":"Normalized transmittance of the MoO₃ thin films at various input intensities.","orient":"bottom","anchor":"start","frame":"group","font":"Liberation Serif","fontSize":20.5,"fontWeight":"normal","color":"#000","offset":40,"dx":-331},
  "layer":[
  {"mark":{"type":"point","filled":true,"size":42,"opacity":1},
   "encoding":{
    "x":{"field":"z","type":"quantitative","scale":{"domain":[-30,30],"nice":false,"zero":false},"axis":{"values":[-30,-25,-20,-15,-10,-5,0,5,10,15,20,25,30],"labelExpr":"datum.value%10==0&&datum.value<30?toString(datum.value):''","tickSize":{"condition":{"test":"datum.value%10==0","value":5},"value":3},"title":"Z (mm)"}},
    "y":{"field":"T","type":"quantitative","scale":{"domain":[0.5,1.148],"nice":false,"zero":false},"axis":null},
    "color":{"field":"s","type":"nominal","scale":{"domain":["a","b","c"],"range":["#ff33ff","#1a8a1a","#ff9a3c"]},"legend":{"title":null,"symbolSize":120,"labelExpr":"datum.label=='a'?'15.55 MW/cm²':datum.label=='b'?'40.04 MW/cm²':'77.75 MW/cm²'"}},
    "shape":{"field":"s","type":"nominal","scale":{"domain":["a","b","c"],"range":["diamond","triangle-left","M0,-1L0.235,-0.324L0.951,-0.309L0.38,0.124L0.588,0.809L0,0.4L-0.588,0.809L-0.38,0.124L-0.951,-0.309L-0.235,-0.324Z"]},"legend":{"title":null,"symbolSize":120,"labelExpr":"datum.label=='a'?'15.55 MW/cm²':datum.label=='b'?'40.04 MW/cm²':'77.75 MW/cm²'"}}}},
  {"mark":{"type":"line","strokeWidth":1.6},
   "encoding":{
    "x":{"field":"z","type":"quantitative","scale":{"domain":[-30,30],"nice":false,"zero":false},"axis":{"values":[-30,-25,-20,-15,-10,-5,0,5,10,15,20,25,30],"labelExpr":"datum.value%10==0&&datum.value<30?toString(datum.value):''","tickSize":{"condition":{"test":"datum.value%10==0","value":5},"value":3},"title":"Z (mm)"}},
    "y":{"field":"f","type":"quantitative","scale":{"domain":[0.5,1.148],"nice":false,"zero":false},"axis":null},
    "stroke":{"field":"s","type":"nominal","scale":{"domain":["a","b","c"],"range":["#ff44ff","#1a7a1a","#ff8c1a"]},"legend":null}}},
  {"data":{"values":[{}]},"mark":{"type":"rect","fill":"#fff","stroke":"#9a9a9a","strokeWidth":1.2},
   "encoding":{"x":{"datum":-5.95,"axis":{"values":[-30,-25,-20,-15,-10,-5,0,5,10,15,20,25,30],"labelExpr":"datum.value%10==0&&datum.value<30?toString(datum.value):''","tickSize":{"condition":{"test":"datum.value%10==0","value":5},"value":3},"title":"Z (mm)"}},"x2":{"datum":7.15},"y":{"datum":1.06,"axis":null},"y2":{"datum":1.137}}},
  {"data":{"values":[{}]},"mark":{"type":"text","text":"MoO₃:Ni","font":"Liberation Sans","fontSize":17,"color":"#111"},
   "encoding":{"x":{"datum":0.6,"axis":{"values":[-30,-25,-20,-15,-10,-5,0,5,10,15,20,25,30],"labelExpr":"datum.value%10==0&&datum.value<30?toString(datum.value):''","tickSize":{"condition":{"test":"datum.value%10==0","value":5},"value":3},"title":"Z (mm)"}},"y":{"datum":1.099,"axis":null}}}
 ]},
 {"width":340,"height":237,"data":{"name":"v"},"layer":[
  {"mark":{"type":"point","filled":true,"size":42,"opacity":1},
   "encoding":{
    "x":{"field":"z","type":"quantitative","scale":{"domain":[-30,30],"nice":false,"zero":false},"axis":{"values":[-30,-25,-20,-15,-10,-5,0,5,10,15,20,25,30],"labelExpr":"datum.value%10==0?toString(datum.value):''","tickSize":{"condition":{"test":"datum.value%10==0","value":5},"value":3},"title":"Z (mm)"}},
    "y":{"field":"T","type":"quantitative","scale":{"domain":[0.5,1.148],"nice":false,"zero":false},"axis":null},
    "color":{"field":"s","type":"nominal","scale":{"domain":["a","b","c"],"range":["#ff9a3c","#1a1aff","#1f8c2a"]},"legend":{"title":null,"symbolSize":120,"labelExpr":"datum.label=='a'?'11.02 MW/cm²':datum.label=='b'?'40.04 MW/cm²':'74.98 MW/cm²'"}},
    "shape":{"field":"s","type":"nominal","scale":{"domain":["a","b","c"],"range":["triangle-down","triangle-up","circle"]},"legend":{"title":null,"symbolSize":120,"labelExpr":"datum.label=='a'?'11.02 MW/cm²':datum.label=='b'?'40.04 MW/cm²':'74.98 MW/cm²'"}}}},
  {"mark":{"type":"line","strokeWidth":1.6},
   "encoding":{
    "x":{"field":"z","type":"quantitative","scale":{"domain":[-30,30],"nice":false,"zero":false},"axis":{"values":[-30,-25,-20,-15,-10,-5,0,5,10,15,20,25,30],"labelExpr":"datum.value%10==0?toString(datum.value):''","tickSize":{"condition":{"test":"datum.value%10==0","value":5},"value":3},"title":"Z (mm)"}},
    "y":{"field":"f","type":"quantitative","scale":{"domain":[0.5,1.148],"nice":false,"zero":false},"axis":null},
    "stroke":{"field":"s","type":"nominal","scale":{"domain":["a","b","c"],"range":["#ff8c1a","#1a3cff","#1e6a5a"]},"legend":null}}},
  {"data":{"values":[{}]},"mark":{"type":"rect","fill":"#fff","stroke":"#9a9a9a","strokeWidth":1.2},
   "encoding":{"x":{"datum":-6.2,"axis":{"values":[-30,-25,-20,-15,-10,-5,0,5,10,15,20,25,30],"labelExpr":"datum.value%10==0?toString(datum.value):''","tickSize":{"condition":{"test":"datum.value%10==0","value":5},"value":3},"title":"Z (mm)"}},"x2":{"datum":6.0},"y":{"datum":1.06,"axis":null},"y2":{"datum":1.137}}},
  {"data":{"values":[{}]},"mark":{"type":"text","text":"MoO₃:V","font":"Liberation Sans","fontSize":17,"color":"#111"},
   "encoding":{"x":{"datum":-0.1,"axis":{"values":[-30,-25,-20,-15,-10,-5,0,5,10,15,20,25,30],"labelExpr":"datum.value%10==0?toString(datum.value):''","tickSize":{"condition":{"test":"datum.value%10==0","value":5},"value":3},"title":"Z (mm)"}},"y":{"datum":1.099,"axis":null}}}
 ]}
]
}
